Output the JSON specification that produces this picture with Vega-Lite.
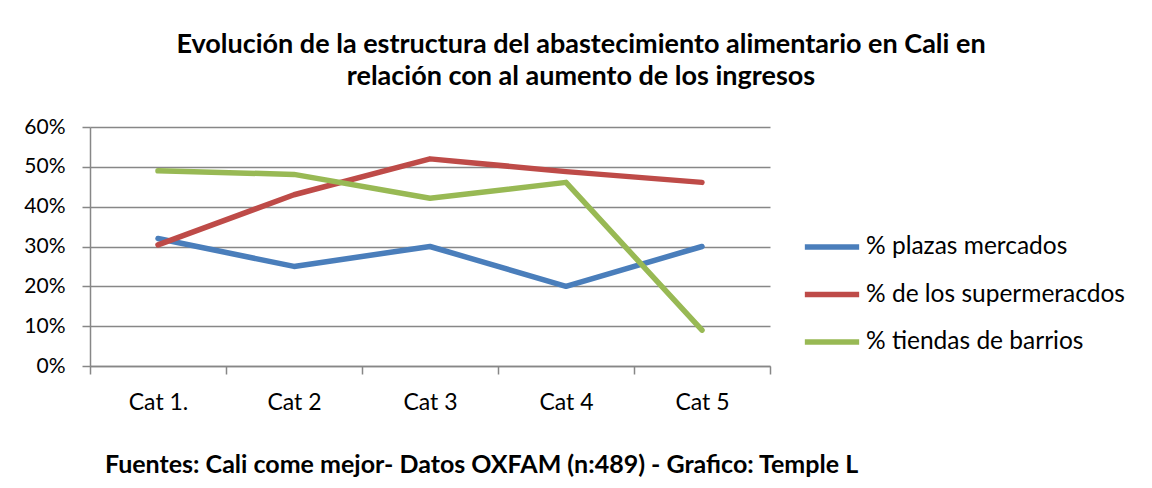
{
  "$schema": "https://vega.github.io/schema/vega-lite/v6.json",
  "autosize": {"type": "none"},
  "width": 680,
  "height": 239,
  "padding": {"left": 90, "top": 127, "right": 382, "bottom": 122},
  "background": "white",
  "title": {
    "text": ["Evolución de la estructura del abastecimiento alimentario en Cali en", "relación con al aumento de los ingresos"],
    "font": "Lato",
    "fontSize": 27,
    "fontWeight": "bold",
    "color": "black",
    "anchor": "middle",
    "dx": 151,
    "offset": 25,
    "lineHeight": 32
  },
  "data": {
    "values": [
      {"cat": "Cat 1.", "serie": "% plazas mercados", "v": 0.32},
      {"cat": "Cat 2", "serie": "% plazas mercados", "v": 0.25},
      {"cat": "Cat 3", "serie": "% plazas mercados", "v": 0.30},
      {"cat": "Cat 4", "serie": "% plazas mercados", "v": 0.20},
      {"cat": "Cat 5", "serie": "% plazas mercados", "v": 0.30},
      {"cat": "Cat 1.", "serie": "% de los supermeracdos", "v": 0.304},
      {"cat": "Cat 2", "serie": "% de los supermeracdos", "v": 0.43},
      {"cat": "Cat 3", "serie": "% de los supermeracdos", "v": 0.52},
      {"cat": "Cat 4", "serie": "% de los supermeracdos", "v": 0.488},
      {"cat": "Cat 5", "serie": "% de los supermeracdos", "v": 0.461},
      {"cat": "Cat 1.", "serie": "% tiendas de barrios", "v": 0.49},
      {"cat": "Cat 2", "serie": "% tiendas de barrios", "v": 0.481},
      {"cat": "Cat 3", "serie": "% tiendas de barrios", "v": 0.421},
      {"cat": "Cat 4", "serie": "% tiendas de barrios", "v": 0.461},
      {"cat": "Cat 5", "serie": "% tiendas de barrios", "v": 0.09}
    ]
  },
  "mark": {"type": "line", "strokeWidth": 5.5, "strokeCap": "round", "strokeJoin": "round"},
  "encoding": {
    "x": {
      "field": "cat", "type": "nominal", "sort": null,
      "scale": {"type": "band", "paddingInner": 0, "paddingOuter": 0},
      "axis": {
        "title": "Fuentes: Cali come mejor- Datos OXFAM (n:489) - Grafico: Temple L",
        "titleFont": "Lato", "titleFontSize": 25, "titleFontWeight": "bold", "titleColor": "black",
        "titleX": 391, "titleY": 106, "titleAnchor": "middle", "titleBaseline": "alphabetic",
        "labelAngle": 0, "labelFont": "Lato", "labelFontSize": 23, "labelColor": "black",
        "labelPadding": 17, "tickSize": 8, "tickBand": "extent",
        "domainColor": "#878787", "domainWidth": 1.5, "tickColor": "#878787", "tickWidth": 1.5,
        "grid": false
      }
    },
    "y": {
      "field": "v", "type": "quantitative",
      "scale": {"domain": [0, 0.6], "nice": false},
      "axis": {
        "title": null, "format": ".0%", "values": [0, 0.1, 0.2, 0.3, 0.4, 0.5, 0.6],
        "labelFont": "Lato", "labelFontSize": 21, "labelColor": "black", "labelPadding": 17,
        "tickSize": 8, "tickColor": "#878787", "tickWidth": 1.5,
        "domainColor": "#878787", "domainWidth": 1.5,
        "grid": true, "gridColor": "#878787", "gridWidth": 1.5
      }
    },
    "color": {
      "field": "serie", "type": "nominal",
      "scale": {"domain": ["% plazas mercados", "% de los supermeracdos", "% tiendas de barrios"], "range": ["#4A7EBB", "#BE4B48", "#98B954"]},
      "legend": {
        "title": null, "orient": "none", "legendX": 712, "legendY": 90,
        "symbolType": "stroke", "symbolSize": 2950, "symbolStrokeWidth": 5.5,
        "labelFont": "Lato", "labelFontSize": 24.5, "labelColor": "black", "labelOffset": 4,
        "rowPadding": 5.5, "labelLimit": 400
      }
    }
  },
  "config": {"view": {"stroke": null}}
}
